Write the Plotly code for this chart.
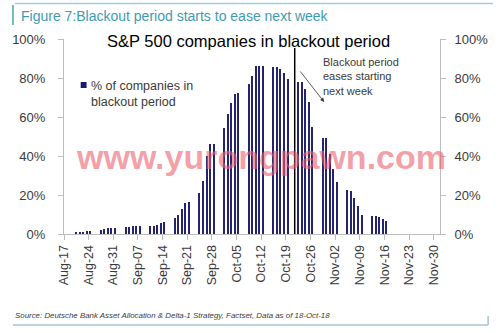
import pandas as pd
import plotly.graph_objects as go

# ---------------- data ----------------
start_day = "2018-08-20"
end_day = "2018-11-16"
days = pd.bdate_range(start_day, end_day)  # trading days (weekdays)

pct_blackout = [
    1.0, 1.0, 1.2, 1.3, 1.5,        # Aug 20-24
    2.0, 2.6, 2.9, 3.0, 3.0,        # Aug 27-31
    3.5, 3.7, 3.9, 4.0, 4.0,        # Sep 03-07
    4.1, 4.3, 4.8, 5.5, 6.0,        # Sep 10-14
    8.0, 9.7, 12.8, 15.7, 16.2,     # Sep 17-21
    20.9, 27.3, 40.2, 46.2, 46.2,   # Sep 24-28
    54.2, 61.4, 67.3, 71.8, 72.5,   # Oct 01-05
    76.8, 80.8, 86.2, 86.2, 86.2,   # Oct 08-12
    85.7, 85.7, 84.5, 82.8, 79.6,   # Oct 15-19
    78.2, 78.2, 74.4, 67.9, 55.0,   # Oct 22-26
    49.1, 49.1, 41.0, 33.3, 26.8,   # Oct 29-Nov 02
    22.6, 22.2, 18.3, 14.5, 9.7,    # Nov 05-09
    9.2, 9.2, 8.5, 7.7, 6.8,        # Nov 12-16
]
y_ticks = [0, 0.2, 0.4, 0.6, 0.8, 1.0]
x_first_tick = "2018-08-17"
x_range = ["2018-08-17", "2018-12-01 18:00"]
marker_date = "2018-10-21 12:00"

title_text = "Figure 7:Blackout period starts to ease next week"
chart_title = "S&P 500 companies in blackout period"
legend_text = "% of companies in<br>blackout period"
note_text = "Blackout period<br>eases starting<br>next week"
source_text = "Source: Deutsche Bank Asset Allocation & Delta-1 Strategy, Factset, Data as of 18-Oct-18"
watermark = "www.yurongpawn.com"

# ---------------- layout helpers ----------------
W, H = 500, 333
L, R, T, B = 60, 443, 39, 234
DAY = 86400000


def px(x):
    return (x - L) / (R - L)


def py(y):
    return (B - y) / (B - T)


BAR = "#23236F"
AXC = "#BDBDBD"
TXT = "#3A3A3A"
FONT = "Liberation Sans, Arial, sans-serif"

fig = go.Figure()
fig.add_trace(go.Bar(
    x=days, y=[v / 100 for v in pct_blackout],
    width=0.36 * DAY, offset=0.32 * DAY,
    marker=dict(color=BAR, line=dict(width=0)),
    showlegend=False, hoverinfo="x+y",
))
# invisible trace to activate right axis
fig.add_trace(go.Scatter(x=[days[0]], y=[0], yaxis="y2", mode="markers",
                         marker=dict(opacity=0), showlegend=False, hoverinfo="skip"))

axis_font = dict(family=FONT, size=13, color=TXT)
fig.update_layout(
    width=W, height=H,
    margin=dict(l=L, r=W - R, t=T, b=H - B, pad=0),
    paper_bgcolor="white", plot_bgcolor="white",
    bargap=0,
    xaxis=dict(
        type="date", range=x_range, tick0=x_first_tick, dtick=7 * DAY,
        tickformat="%b-%d", tickangle=-90, ticks="outside", ticklen=5,
        tickcolor=AXC, showline=True, linecolor=AXC, linewidth=1,
        showgrid=False, zeroline=False, tickfont=dict(family=FONT, size=12.5, color=TXT),
        fixedrange=True,
    ),
    yaxis=dict(
        range=[0, 1], tickvals=y_ticks, tickformat=".0%", ticks="outside",
        ticklen=5, tickcolor=AXC, showline=True, linecolor=AXC, linewidth=1,
        showgrid=False, zeroline=False, tickfont=axis_font, ticklabelstandoff=10,
    ),
    yaxis2=dict(
        range=[0, 1], tickvals=y_ticks, tickformat=".0%", ticks="outside",
        ticklen=5, tickcolor=AXC, showline=True, linecolor=AXC, linewidth=1,
        showgrid=False, zeroline=False, tickfont=axis_font, overlaying="y",
        side="right", ticklabelstandoff=6,
    ),
)

shapes = [
    # black marker line
    dict(type="line", xref="x", yref="paper", x0=marker_date, x1=marker_date,
         y0=0, y1=py(48), line=dict(color="black", width=1.5)),
    # legend swatch
    dict(type="rect", xref="paper", yref="paper", x0=px(77), x1=px(83),
         y0=py(88), y1=py(82), fillcolor="#1A1A6E", line=dict(width=0)),
    # frame lines
    dict(type="line", xref="paper", yref="paper", x0=px(10), x1=px(497),
         y0=py(3.5), y1=py(3.5), line=dict(color="#9FCFDA", width=1.5)),
    dict(type="line", xref="paper", yref="paper", x0=px(8), x1=px(8),
         y0=py(5), y1=py(25), line=dict(color="#4AA3B8", width=1.5)),
    dict(type="line", xref="paper", yref="paper", x0=px(8), x1=px(492),
         y0=py(325), y1=py(325), line=dict(color="#A9C5CE", width=1.5)),
    dict(type="line", xref="paper", yref="paper", x0=px(492), x1=px(492),
         y0=py(316), y1=py(325), line=dict(color="#A9C5CE", width=1.5)),
]
fig.update_layout(shapes=shapes)

ann = [
    dict(text=title_text, x=px(14), y=py(16), xanchor="left", yanchor="middle",
         font=dict(family=FONT, size=14, color="#3E9BB2")),
    dict(text=chart_title, x=px(248), y=py(41), xanchor="center", yanchor="middle",
         font=dict(family=FONT, size=16.5, color="black")),
    dict(text=legend_text, x=px(85), y=py(93.5), xanchor="left", yanchor="middle",
         align="left", font=dict(family=FONT, size=12.5, color=TXT)),
    dict(text=note_text, x=px(322), y=py(76), xanchor="left", yanchor="middle",
         align="left", font=dict(family=FONT, size=11, color=TXT)),
    dict(text="", x=px(325), y=py(102), ax=-25, ay=-32, showarrow=True,
         arrowhead=2, arrowsize=1, arrowwidth=0.8, arrowcolor="#333333"),
    dict(text="<b>" + watermark + "</b>", x=px(261), y=py(157), xanchor="center",
         yanchor="middle",
         font=dict(family=FONT, size=34, color="rgba(238,95,110,0.6)")),
    dict(text="<i>" + source_text + "</i>", x=px(8), y=py(315), xanchor="left",
         yanchor="middle", font=dict(family=FONT, size=7.9, color=TXT)),
]
for a in ann:
    a.setdefault("xref", "paper")
    a.setdefault("yref", "paper")
    a.setdefault("showarrow", False)
fig.update_layout(annotations=ann)

fig.write_html("out.html")
